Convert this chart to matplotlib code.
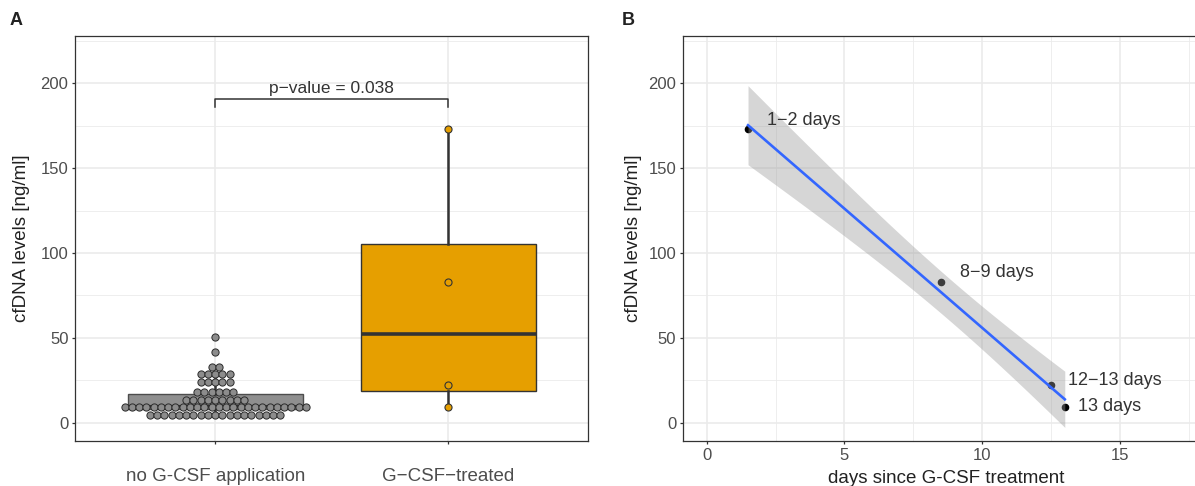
import numpy as np
import matplotlib.pyplot as plt

plt.rcParams['font.family'] = ['Liberation Sans', 'DejaVu Sans']

# ---- panel A data ----
group_labels = ['no G-CSF application', 'G\u2212CSF\u2212treated']
# dot plot rows for the untreated group (stack level, number of dots)
no_gcsf_levels = [4.8, 9.3, 13.4, 18.0, 23.7, 28.5, 33.0, 41.5, 50.4]
no_gcsf_counts = [19, 26, 9, 6, 5, 5, 2, 1, 1]
no_gcsf_box = {'q1': 8.0, 'med': 10.0, 'q3': 16.9, 'whislo': 4.8, 'whishi': 28.5}
gcsf_values = [173, 83, 22, 9]
p_text = 'p\u2212value = 0.038'

# ---- panel B data ----
days = [1.5, 8.5, 12.5, 13.0]
cfdna = [173, 83, 22, 9]
day_labels = ['1\u22122 days', '8\u22129 days', '12\u221213 days', '13 days']
label_offsets = [(14, 6.5), (14, 7), (12.5, 3.5), (9.5, 1)]  # points

T975_DF2 = 4.303  # t quantile for 95% band, n=4

TICK_C = '#4d4d4d'
TITLE_C = '#222222'
EDGE_C = '#333333'
GRID_C = '#ebebeb'

fig = plt.figure(figsize=(11.95, 4.86), dpi=100)
axA = fig.add_axes([75.4/1195, 45/486, 512.6/1195, 405/486])
axB = fig.add_axes([683.3/1195, 45/486, 525/1195, 405/486])


def style(ax, ypad=5):
    ax.set_axisbelow(True)
    ax.grid(which='major', color=GRID_C, lw=1.2)
    ax.grid(which='minor', color=GRID_C, lw=0.6)
    for s in ax.spines.values():
        s.set_color(EDGE_C)
        s.set_linewidth(0.9)
    ax.tick_params(which='major', length=2.5, width=0.9, color=EDGE_C,
                   labelcolor=TICK_C, labelsize=12, pad=2.5)
    ax.tick_params(which='minor', length=0)
    ax.set_yticks([0, 50, 100, 150, 200])
    ax.set_yticks([25, 75, 125, 175, 225], minor=True)
    ax.set_ylim(-10.8, 228)
    ax.set_ylabel('cfDNA levels [ng/ml]', fontsize=13.5, color=TITLE_C, labelpad=ypad)


# ---------------- panel A ----------------
style(axA, ypad=7.5)

stats = dict(no_gcsf_box, fliers=[])
axA.bxp([stats], positions=[1], widths=0.75, showfliers=False, showcaps=False,
        patch_artist=True,
        boxprops=dict(facecolor='#8f8f8f', edgecolor='#4d4d4d', lw=1.0),
        medianprops=dict(color=EDGE_C, lw=2.2),
        whiskerprops=dict(color=EDGE_C, lw=1.8), zorder=2)

axA.boxplot([gcsf_values], positions=[2], widths=0.75, showfliers=False,
            showcaps=False, patch_artist=True,
            boxprops=dict(facecolor='#E69F00', edgecolor=EDGE_C, lw=1.0),
            medianprops=dict(color=EDGE_C, lw=2.6),
            whiskerprops=dict(color=EDGE_C, lw=1.8), zorder=2)
axA.scatter(np.full(len(gcsf_values), 2.0), gcsf_values, s=26, c='#E69F00',
            edgecolors=EDGE_C, linewidths=0.8, zorder=3)

axA.set_xlim(0.4, 2.6)
axA.set_xticks([1, 2])
axA.set_xticklabels(group_labels)
axA.tick_params(axis='x', pad=17, labelsize=13.5)

# centred dot stacks
ax_w_px = axA.get_position().width * fig.get_figwidth() * fig.dpi
dx = 7.25 * (2.6 - 0.4) / ax_w_px
xs, ys = [], []
for lvl, n in zip(no_gcsf_levels, no_gcsf_counts):
    off = (np.arange(n) - (n - 1) / 2) * dx
    xs.extend(1 + off)
    ys.extend([lvl] * n)
axA.scatter(xs, ys, s=27, c='#8c8c8c', edgecolors='#2b2b2b', linewidths=0.7, zorder=3)

# significance bracket
axA.plot([1, 1, 2, 2], [186, 190.8, 190.8, 186], color=EDGE_C, lw=1.1)
axA.text(1.5, 192.8, p_text, ha='center', va='bottom', fontsize=12.5, color=EDGE_C)

# ---------------- panel B ----------------
style(axB)
axB.set_xlim(-0.85, 18.21)
axB.set_xticks([0, 5, 10, 15])
axB.set_xticks([2.5, 7.5, 12.5, 17.5], minor=True)
axB.set_xlabel('days since G-CSF treatment', fontsize=13.5, color=TITLE_C, labelpad=5)

x = np.array(days, dtype=float)
y = np.array(cfdna, dtype=float)
slope, icpt = np.polyfit(x, y, 1)
resid = y - (slope * x + icpt)
s = np.sqrt(np.sum(resid ** 2) / (len(x) - 2))
sxx = np.sum((x - x.mean()) ** 2)
xf = np.linspace(x.min(), x.max(), 80)
yf = slope * xf + icpt
se = s * np.sqrt(1 / len(x) + (xf - x.mean()) ** 2 / sxx)

axB.scatter(x, y, s=20, c='black', zorder=2)
axB.fill_between(xf, yf - T975_DF2 * se, yf + T975_DF2 * se, color='#999999',
                 alpha=0.4, lw=0, zorder=3)
axB.plot(xf, yf, color='#3366FF', lw=1.9, zorder=4)
for xi, yi, lab, off in zip(x, y, day_labels, label_offsets):
    axB.annotate(lab, (xi, yi), xytext=off, textcoords='offset points',
                 ha='left', va='center', fontsize=13, color=EDGE_C)

fig.text(10/1195, 1 - 20.5/486, 'A', fontsize=13, fontweight='bold', color=TITLE_C, va='center')
fig.text(622/1195, 1 - 20.5/486, 'B', fontsize=13, fontweight='bold', color=TITLE_C, va='center')

fig.savefig('out.png', dpi=100)
